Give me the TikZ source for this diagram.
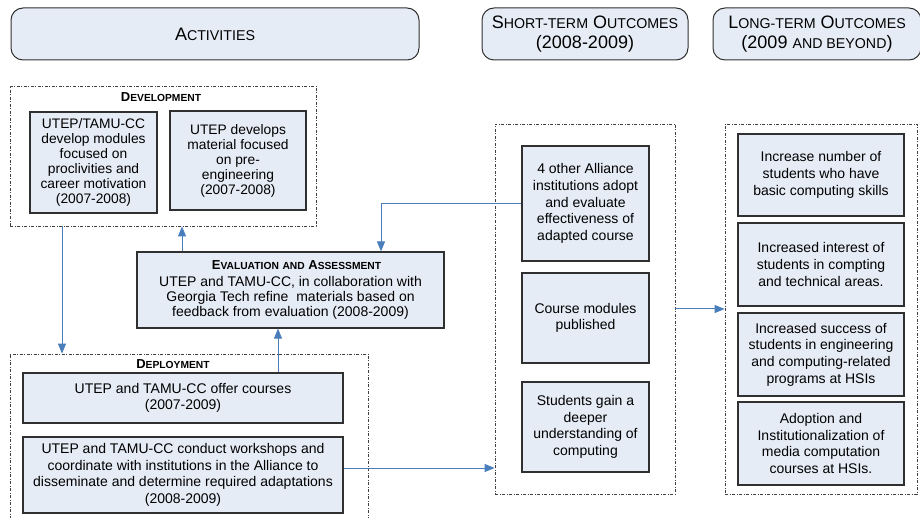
\documentclass[tikz,border=0pt]{standalone}
\usepackage{fontspec}
\setmainfont{Liberation Sans}
\usetikzlibrary{arrows.meta}
\definecolor{boxfill}{HTML}{E6ECF6}
\definecolor{boxline}{HTML}{303030}
\definecolor{grpline}{HTML}{404040}
\definecolor{flowblue}{HTML}{4A7EBB}
\makeatletter
\newcommand\lowcaps[1]{{\fontsize{\fpeval{0.79*\f@size}}{\f@baselineskip}\selectfont\MakeUppercase{#1}}}
\newcommand\scword[1]{\scword@#1\relax}
\def\scword@#1#2\relax{#1\lowcaps{#2}}
\makeatother

\begin{document}
\begin{tikzpicture}[x=1pt,y=-1pt,every node/.style={font=\fontsize{14}{16.7}\selectfont}]
  \tikzset{
    head/.style={draw=boxline, fill=boxfill, rounded corners=12pt, line width=1pt,
      align=center, inner sep=0pt, font=\fontsize{18}{20}\selectfont},
    unit/.style={draw=boxline, fill=boxfill, line width=1.2pt, align=center, inner sep=0pt},
    small/.style={font=\fontsize{13.8}{15}\selectfont},
    group/.style={draw=grpline, line width=0.8pt,
      dash pattern=on 3pt off 1.5pt on 1pt off 1.5pt, inner sep=0pt},
    title/.style={font=\fontsize{13}{15}\selectfont\bfseries},
    flow/.style={draw=flowblue, line width=1pt, -{Triangle[length=10pt,width=8pt]}}
  }
  \useasboundingbox (0,0) rectangle (920,518);

  \node[head, minimum width=408pt, minimum height=52pt] (act) at (215,34) {\scword{Activities}};
  \node[head, minimum width=206pt, minimum height=52pt] (short) at (585,34)
    {\scword{Short-term} \scword{Outcomes}\\(2008-2009)};
  \node[head, minimum width=208pt, minimum height=52pt] (long) at (817,34)
    {\scword{Long-term} \scword{Outcomes}\\(2009 \lowcaps{and beyond})};

  \node[group, minimum width=306pt, minimum height=140pt] (dev) at (163,156) {};
  \node[title] (devt) at (161,97) {\scword{Development}};
  \node[unit, small, minimum width=127pt, minimum height=101pt] (modules) at (93.5,162.5)
    {UTEP/TAMU-CC\\develop modules\\focused on\\proclivities and\\career motivation\\(2007-2008)};
  \node[unit, small, minimum width=136pt, minimum height=99pt] (preeng) at (238,160.5)
    {UTEP develops\\material focused\\on pre-\\engineering\\(2007-2008)};

  \node[unit, minimum width=307pt, minimum height=76pt] (eval) at (290.5,290)
    {\hspace*{12pt}{\fontsize{13}{15}\selectfont\bfseries\scword{Evaluation} \lowcaps{and} \scword{Assessment}}\\[0pt]
     UTEP and TAMU-CC, in collaboration with\\[-1.7pt]
     Georgia Tech refine \ materials based on\\[-1.7pt]
     feedback from evaluation (2008-2009)};

  \node[group, minimum width=358pt, minimum height=186pt] (depl) at (189,447) {};
  \node[title] (deplt) at (173,364) {\scword{Deployment}};
  \node[unit, minimum width=320pt, minimum height=50pt] (offer) at (183,398)
    {UTEP and TAMU-CC offer courses\\(2007-2009)};
  \node[unit, minimum width=320pt, minimum height=76pt] (work) at (183,475)
    {UTEP and TAMU-CC conduct workshops and\\coordinate with institutions in the Alliance to\\disseminate and determine required adaptations\\(2008-2009)};

  \node[group, minimum width=180pt, minimum height=370pt] (stbox) at (585,309) {};
  \node[unit, minimum width=127pt, minimum height=115pt] (adopt) at (585.5,203.5)
    {4 other Alliance\\institutions adopt\\and evaluate\\effectiveness of\\adapted course};
  \node[unit, minimum width=127pt, minimum height=90pt] (publish) at (585.5,318)
    {Course modules\\published};
  \node[unit, minimum width=127pt, minimum height=90pt] (deeper) at (585.5,427)
    {Students gain a\\deeper\\understanding of\\computing};

  \node[group, minimum width=192pt, minimum height=370pt] (ltbox) at (821,309) {};
  \node[unit, minimum width=166pt, minimum height=82pt] (skills) at (821,175)
    {Increase number of\\students who have\\basic computing skills};
  \node[unit, minimum width=166pt, minimum height=83pt] (interest) at (821,264.5)
    {Increased interest of\\students in compting\\and technical areas.};
  \node[unit, minimum width=166pt, minimum height=83pt] (success) at (821,354.5)
    {Increased success of\\students in engineering\\and computing-related\\programs at HSIs};
  \node[unit, minimum width=166pt, minimum height=83pt] (inst) at (821,443.5)
    {Adoption and\\Institutionalization of\\media computation\\courses at HSIs.};

  \coordinate (c1) at (62,0);
  \coordinate (c2) at (182,0);
  \coordinate (c3) at (278,0);
  \coordinate (c4) at (381,0);
  \coordinate (c5) at (0,468);
  \draw[flow] (dev.south -| c1) -- (depl.north -| c1);
  \draw[flow] (eval.north -| c2) -- (dev.south -| c2);
  \draw[flow] (offer.north -| c3) -- (eval.south -| c3);
  \draw[flow] (adopt.west) -| (eval.north -| c4);
  \draw[flow] (work.east |- c5) -- (stbox.west |- c5);
  \draw[flow] (stbox) -- (ltbox);
\end{tikzpicture}
\end{document}
